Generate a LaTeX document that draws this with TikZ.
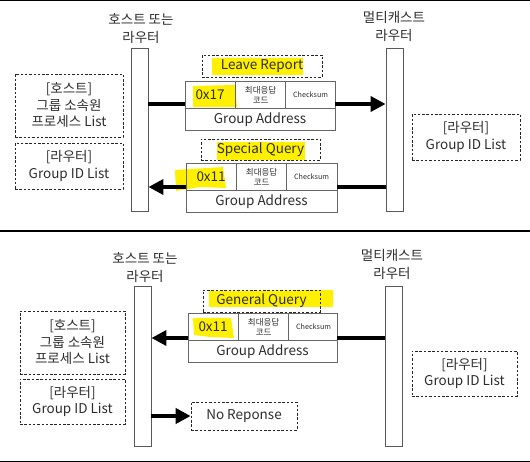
\documentclass[tikz,border=0pt]{standalone}
\usepackage{fontspec}
\setmainfont{Noto Sans CJK KR}
\usetikzlibrary{arrows.meta,calc}
\definecolor{hl}{RGB}{255,240,0}
\definecolor{ink}{RGB}{45,45,45}
\tikzset{
  bar/.style={draw=black!65, line width=0.9pt, fill=white, minimum width=17pt, inner sep=0pt},
  dbox/.style={draw=black!85, dash pattern=on 2.5pt off 1.8pt, line width=0.7pt, inner sep=0pt},
  cell/.style={draw=black!60, line width=0.8pt, inner sep=0pt},
  txt/.style={font=\fontsize{13.5}{16.5}\selectfont, align=center, text=ink, inner sep=0pt},
  lab/.style={font=\fontsize{13.5}{18}\selectfont, align=center, text=ink, inner sep=0pt},
  small/.style={font=\fontsize{8.5}{10}\selectfont, align=center, text=ink, inner sep=0pt},
  tiny/.style={font=\fontsize{7.2}{8}\selectfont, align=center, text=ink, inner sep=0pt},
  shaft/.style={line width=4.5pt, black},
  arr/.style={line width=4.5pt, black, -{Triangle[length=15pt,width=15pt]}},
  sep/.style={line width=1.2pt, black},
  hlight/.style={fill=hl, draw=none}
}
\newcommand\mypacket[5]{%
  \node[cell, minimum width=#4pt, minimum height=49pt] (#1) at (#2,#3) {};
  \coordinate (#1-r) at ($(#1.north west)+(0,27.5)$);
  \draw[cell] (#1-r) -- (#1-r -| #1.east);
  \draw[cell] ($(#1.north west)+(51,0)$) -- ($(#1-r)+(51,0)$);
  \draw[cell] ($(#1.north west)+(101,0)$) -- ($(#1-r)+(101,0)$);
  \node[txt] (#1-a) at ($(#1.north west)+(25.5,14)$) {#5};
  \node[small] (#1-b) at ($(#1.north west)+(76,14)$) {최대응답\\코드};
  \node[tiny] (#1-c) at ($(#1.north west)+(126,14)$) {Checksum};
  \node[txt] (#1-d) at ($(#1-r)!0.5!(#1.south east)$) {Group Address};
}
\begin{document}
\begin{tikzpicture}[x=1pt,y=-1pt]
\useasboundingbox (0,0) rectangle (530,462);
% panel separators
\coordinate (s0l) at (0,0.8); \coordinate (s0r) at (530,0.8);
\coordinate (s1l) at (0,231); \coordinate (s1r) at (530,231);
\coordinate (s2l) at (0,461.2); \coordinate (s2r) at (530,461.2);
\draw[sep] (s0l) -- (s0r);
\draw[sep] (s1l) -- (s1r);
\draw[sep] (s2l) -- (s2r);

% ---------- highlights ----------
\fill[hlight] (212,58) rectangle (303,75);
\fill[hlight] (193,86) -- (235,85) -- (237,107) -- (193,107) -- cycle;
\fill[hlight] (217,142) rectangle (305,160);
\fill[hlight] (175,170) -- (223,167) -- (226,188) -- (200,187) -- (176,191) -- cycle;
\fill[hlight] (209,291) -- (333,290) -- (333,307) -- (209,307) -- cycle;
\fill[hlight] (193,318) -- (231,318) -- (234,338) -- (210,337) -- (194,335) -- cycle;

% ================= top panel =================
\node[lab] (hlabA) at (141,29) {호스트 또는\\라우터};
\node[lab] (mlabA) at (394,26) {멀티캐스트\\라우터};
\node[bar, minimum height=163pt] (hA) at (139.5,129.5) {};
\node[bar, minimum height=163pt] (mA) at (394.5,129.5) {};

\node[dbox, minimum width=108pt, minimum height=63pt] (lb1A) at (69,105.5) {};
\node[txt] at (lb1A) {[호스트]\\그룹 소속원\\프로세스 List};
\node[dbox, minimum width=108pt, minimum height=46pt] (lb2A) at (69,166) {};
\node[txt] at (lb2A) {[라우터]\\Group ID List};
\node[dbox, minimum width=108pt, minimum height=46pt] (rbA) at (466,137) {};
\node[txt] at (rbA) {[라우터]\\Group ID List};

\node[dbox, minimum width=120pt, minimum height=22pt] (lrA) at (262,66) {};
\node[txt] at (lrA) {Leave Report};
\mypacket{p1}{260}{105.5}{150}{0x17}

\node[dbox, minimum width=119pt, minimum height=21pt] (sqA) at (260.5,149.5) {};
\node[txt] at (sqA) {Special Query};
\mypacket{p2}{261.5}{187.5}{151}{0x11}

\coordinate (y1) at (0,104);
\coordinate (y2) at (0,187);
\draw[shaft] (hA.east |- y1) -- (p1.west |- y1);
\draw[arr] (p1.east |- y1) -- (mA.west |- y1);
\draw[shaft] (mA.west |- y2) -- (p2.east |- y2);
\draw[arr] (p2.west |- y2) -- (hA.east |- y2);

% ================= bottom panel =================
\node[lab] (hlabB) at (145,268) {호스트 또는\\라우터};
\node[lab] (mlabB) at (392,264) {멀티캐스트\\라우터};
\node[bar, minimum height=160pt] (hB) at (142.5,366) {};
\node[bar, minimum height=160pt] (mB) at (394,366) {};

\node[dbox, minimum width=105pt, minimum height=63pt] (lb1B) at (72.5,342.5) {};
\node[txt] at (lb1B) {[호스트]\\그룹 소속원\\프로세스 List};
\node[dbox, minimum width=105pt, minimum height=45pt] (lb2B) at (72.5,401.5) {};
\node[txt] at (lb2B) {[라우터]\\Group ID List};
\node[dbox, minimum width=105pt, minimum height=45pt] (rbB) at (464.5,373.5) {};
\node[txt] at (rbB) {[라우터]\\Group ID List};

\node[dbox, minimum width=117pt, minimum height=22pt] (gqB) at (261.5,301) {};
\node[txt] at (gqB) {General Query};
\mypacket{p3}{262.5}{337.5}{149}{0x11}

\node[dbox, minimum width=106pt, minimum height=28pt] (nrB) at (244,416) {};
\node[txt] at (nrB) {No Reponse};

\coordinate (y3) at (0,338);
\coordinate (y4) at (0,416);
\draw[shaft] (mB.west |- y3) -- (p3.east |- y3);
\draw[arr] (p3.west |- y3) -- (hB.east |- y3);
\draw[arr] (hB.east |- y4) -- (nrB.west);
\end{tikzpicture}
\end{document}
